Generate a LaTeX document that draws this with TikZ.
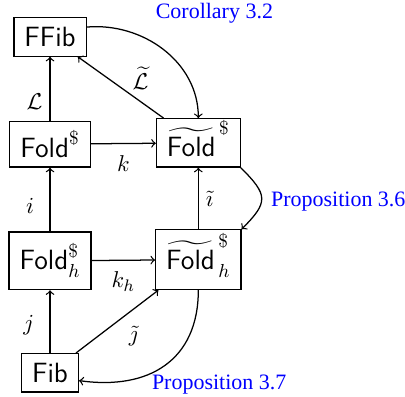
\documentclass[tikz,border=0pt]{standalone}
\usepackage{amsmath}
\usepackage{fontspec}
\setmainfont{Liberation Serif}
\usepackage{tikz}

\begin{document}
\begin{tikzpicture}[>=to, semithick,
    box/.style={draw, font=\sffamily\fontsize{13.3}{16}\selectfont,
                inner xsep=5pt, inner ysep=4.5pt},
    map/.style={font=\fontsize{11}{13}\selectfont},
    ref/.style={text=blue, font=\rmfamily\fontsize{10.5}{12}\selectfont}]
    \useasboundingbox (0,0) rectangle (6.80,6.65);
    % Objects
    \node[box] (FFib)   at (0.84,6.03) {FFib};
    \node[box] (Fold)   at (0.84,4.23) {$\textsf{Fold}^{\$}$};
    \node[box, text height=13.6pt, text depth=0.5pt] (tFold) at (3.33,4.25)
        {${\widetilde{\textsf{Fold}}\mkern2mu}^{\$}$};
    \node[box, text height=13.5pt, text depth=5pt] (Foldh) at (0.84,2.27)
        {$\textsf{Fold}^{\$}_{h}$};
    \node[box, text height=14.5pt, text depth=5pt] (tFoldh) at (3.33,2.29)
        {${\widetilde{\textsf{Fold}}\mkern2mu}^{\$}_{h}$};
    \node[box] (Fib)    at (0.84,0.39) {Fib};
    % Maps
    \draw[->] (Fold) -- node[map, left, pos=0.3] (lL) {$\mathcal{L}$} (FFib);
    \draw[->] (tFold) -- node[map, above right, pos=0.45, yshift=-3pt] (ltL) {$\widetilde{\mathcal{L}}$} (FFib);
    \draw[->] (Fold) -- node[map, below=2pt] (lk) {$k$} (tFold);
    \draw[->] (Foldh) -- node[map, left=4pt, pos=0.4] (li) {$i$} (Fold);
    \draw[->] (tFoldh) -- node[map, right] (lti) {$\tilde{\imath}$} (tFold);
    \draw[->] (Foldh) -- node[map, below=2pt] (lkh) {$k_h$} (tFoldh);
    \draw[->] (Fib) -- node[map, left=4pt, pos=0.45] (lj) {$j$} (Foldh);
    \draw[->] (Fib) -- node[map, below right, pos=0.55] (ltj) {$\tilde{\jmath}$} (tFoldh);
    % Results
    \draw[->] (FFib.15) to[out=5,in=90] (tFold.north);
    \draw[->] (tFold.south east) to[out=-45,in=45,looseness=1.6] (tFoldh.north east);
    \draw[->] (tFoldh.south) to[out=-90,in=-8,looseness=1.2] (Fib.-15);
    \node[ref] (cor32)  at (3.60,6.42) {Corollary 3.2};
    \node[ref] (prop36) at (5.68,3.26) {Proposition 3.6};
    \node[ref] (prop37) at (3.68,0.20) {Proposition 3.7};
\end{tikzpicture}
\end{document}
